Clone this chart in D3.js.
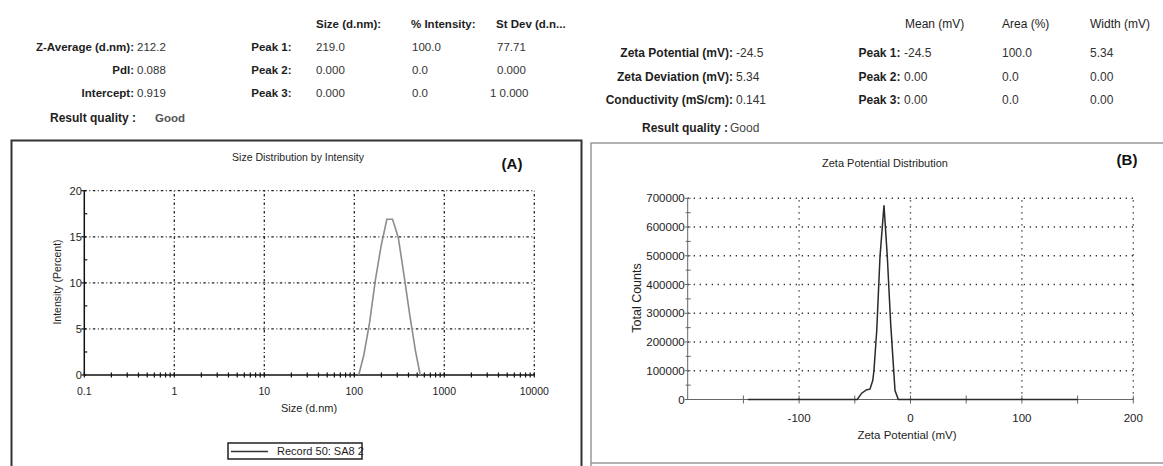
<!DOCTYPE html>
<html><head><meta charset="utf-8">
<script src="https://cdn.jsdelivr.net/npm/d3@7/dist/d3.min.js"></script>
<style>body{margin:0;background:#fff;}svg{display:block;font-family:"Liberation Sans",Arial,sans-serif;}</style>
</head><body>
<svg id="c" width="1163" height="466"></svg>
<script>
// ---------- data ----------
const sizeHeaderCols = ["Size (d.nm):", "% Intensity:", "St Dev (d.n..."];
const sizeSummaryLabels = ["Z-Average (d.nm):", "PdI:", "Intercept:"];
const sizeSummaryValues = ["212.2", "0.088", "0.919"];
const sizePeakLabels = ["Peak 1:", "Peak 2:", "Peak 3:"];
const sizePeakSize = ["219.0", "0.000", "0.000"];
const sizePeakIntensity = ["100.0", "0.0", "0.0"];
const sizePeakStdev = ["77.71", "0.000", "1 0.000"];

const zetaHeaderCols = ["Mean (mV)", "Area (%)", "Width (mV)"];
const zetaSummaryLabels = ["Zeta Potential (mV):", "Zeta Deviation (mV):", "Conductivity (mS/cm):"];
const zetaSummaryValues = ["-24.5", "5.34", "0.141"];
const zetaPeakLabels = ["Peak 1:", "Peak 2:", "Peak 3:"];
const zetaPeakMean = ["-24.5", "0.00", "0.00"];
const zetaPeakArea = ["100.0", "0.0", "0.0"];
const zetaPeakWidth = ["5.34", "0.00", "0.00"];
const resultQuality = "Good";

// Size distribution (d.nm vs intensity %)
const sizeNm = [112, 127.8, 148.0, 171.4, 198.5, 229.9, 266.2, 308.3, 357.0, 413.4, 478.7, 540];
const intensityPct = [0, 2.2, 5.7, 10.3, 14.0, 16.9, 16.9, 14.9, 10.8, 6.5, 2.6, 0];
const sizeTickLabels = ["0.1", "1", "10", "100", "1000", "10000"];
const sizeTickValues = [0.1, 1, 10, 100, 1000, 10000];
const intensityTicks = [0, 5, 10, 15, 20];

// Zeta potential distribution (mV vs total counts)
const zetaMv = [-146, -47.8, -43.8, -39.3, -36.4, -33.9, -32.8, -30.3, -27.4, -23.8, -20.8, -17.8, -13.9, -10.9, 150];
const totalCounts = [0, 0, 22000, 34000, 36000, 66000, 101000, 240000, 496000, 676000, 496000, 264000, 31000, 0, 0];
const zetaTickLabels = ["-100", "0", "100", "200"];
const zetaTickValues = [-100, 0, 100, 200];
const zetaMinorTicks = [-150, -100, -50, 0, 50, 100, 150, 200];
const countTicks = [0, 100000, 200000, 300000, 400000, 500000, 600000, 700000];

// ---------- drawing ----------
const svg = d3.select("#c");
const ink = "#1e1e1e";

function txt(g, x, y, s, o = {}) {
  return g.append("text").attr("x", x).attr("y", y).attr("dy", "0.35em")
    .attr("text-anchor", o.anchor || "start")
    .attr("font-size", o.size || 12)
    .attr("font-weight", o.bold ? "bold" : "normal")
    .attr("fill", o.fill || ink).text(s);
}

// Header A
const hA = svg.append("g");
sizeHeaderCols.forEach((s, i) => txt(hA, [316, 411, 496][i], 24, s, {bold: true, size: 11.5}));
const rowsA = [47, 70, 93];
sizeSummaryLabels.forEach((s, i) => {
  txt(hA, 134, rowsA[i], s, {bold: true, anchor: "end", size: 11.5});
  txt(hA, 137, rowsA[i], sizeSummaryValues[i], {size: 11.5, fill: "#333"});
  txt(hA, 291.5, rowsA[i], sizePeakLabels[i], {bold: true, anchor: "end", size: 11.5});
  txt(hA, 316, rowsA[i], sizePeakSize[i], {size: 11.5, fill: "#333"});
  txt(hA, 412, rowsA[i], sizePeakIntensity[i], {size: 11.5, fill: "#333"});
  txt(hA, sizePeakStdev[i].length > 5 ? 490 : 497, rowsA[i], sizePeakStdev[i], {size: 11.5, fill: "#333"});
});
txt(hA, 50, 118, "Result quality :", {bold: true, size: 12});
txt(hA, 155, 118, resultQuality, {bold: true, size: 11.5, fill: "#555"});

// Header B
const hB = svg.append("g");
zetaHeaderCols.forEach((s, i) => txt(hB, [905, 1002, 1090][i], 24, s, {size: 12}));
const rowsB = [53, 77, 100];
zetaSummaryLabels.forEach((s, i) => {
  txt(hB, 733, rowsB[i], s, {bold: true, anchor: "end", size: 12});
  txt(hB, 736, rowsB[i], zetaSummaryValues[i], {size: 12, fill: "#333"});
  txt(hB, 900.5, rowsB[i], zetaPeakLabels[i], {bold: true, anchor: "end", size: 12});
  txt(hB, 904, rowsB[i], zetaPeakMean[i], {size: 12, fill: "#333"});
  txt(hB, 1002, rowsB[i], zetaPeakArea[i], {size: 12, fill: "#333"});
  txt(hB, 1090, rowsB[i], zetaPeakWidth[i], {size: 12, fill: "#333"});
});
txt(hB, 728, 128, "Result quality :", {bold: true, anchor: "end", size: 12});
txt(hB, 730, 128, resultQuality, {size: 12, fill: "#444"});

// Frames
svg.append("path").attr("d", "M11.5,470 V140.5 H581.5 V470").attr("fill", "none").attr("stroke", "#333").attr("stroke-width", 2);
svg.append("path").attr("d", "M591,470 V143 H1170 M591,463 H1170").attr("fill", "none").attr("stroke", "#999").attr("stroke-width", 1.5);

// ---------- Panel A ----------
const gA = svg.append("g");
const xA = d3.scaleLog().domain([0.1, 10000]).range([84.3, 534.3]);
const yA = d3.scaleLinear().domain([0, 20]).range([375, 190.7]);

const gridA = gA.append("g").attr("stroke", "#222").attr("stroke-width", 1.3).attr("stroke-dasharray", "2.5,2.5,1,2.5");
sizeTickValues.slice(1).forEach(v => gridA.append("line").attr("x1", xA(v)).attr("x2", xA(v)).attr("y1", yA(0)).attr("y2", yA(20)));
intensityTicks.slice(1).forEach(v => gridA.append("line").attr("x1", xA(0.1)).attr("x2", xA(10000)).attr("y1", yA(v)).attr("y2", yA(v)));

const axA = gA.append("g").attr("stroke", "#111").attr("stroke-width", 1.5);
axA.append("line").attr("x1", xA(0.1)).attr("x2", xA(10000)).attr("y1", yA(0)).attr("y2", yA(0));
axA.append("line").attr("x1", xA(0.1)).attr("x2", xA(0.1)).attr("y1", yA(0)).attr("y2", yA(20));
const minorA = [];
for (let e = -1; e < 4; e++) for (let m = 1; m <= 9; m++) minorA.push(m * Math.pow(10, e));
minorA.push(10000);
minorA.forEach(v => axA.append("line").attr("stroke-width", 1.2).attr("x1", xA(v)).attr("x2", xA(v)).attr("y1", yA(0) - 2.5).attr("y2", yA(0) + 2.5));
intensityTicks.forEach(v => axA.append("line").attr("stroke-width", 1.2).attr("x1", xA(0.1) - 3).attr("x2", xA(0.1) + 2).attr("y1", yA(v)).attr("y2", yA(v)));
[2.5, 7.5, 12.5, 17.5].forEach(v => axA.append("line").attr("stroke-width", 1.2).attr("x1", xA(0.1)).attr("x2", xA(0.1) + 3).attr("y1", yA(v)).attr("y2", yA(v)));
intensityTicks.forEach(v => txt(gA, xA(0.1) - 2.5, yA(v), String(v), {anchor: "end", size: 11}));
sizeTickValues.forEach((v, i) => txt(gA, xA(v), 391, sizeTickLabels[i], {anchor: "middle", size: 10.5}));

gA.append("path").datum(sizeNm.map((d, i) => [d, intensityPct[i]]))
  .attr("d", d3.line().x(d => xA(d[0])).y(d => yA(d[1])))
  .attr("fill", "none").attr("stroke", "#8c8c8c").attr("stroke-width", 1.6);

txt(gA, 298, 157, "Size Distribution by Intensity", {anchor: "middle", size: 10.5});
txt(gA, 512, 164, "(A)", {anchor: "middle", size: 15, bold: true, fill: "#111"});
txt(gA, 309, 408, "Size (d.nm)", {anchor: "middle", size: 11});
gA.append("text").attr("transform", "translate(57,282) rotate(-90)").attr("text-anchor", "middle").attr("dy", "0.35em")
  .attr("font-size", 10.5).attr("fill", ink).text("Intensity (Percent)");
gA.append("rect").attr("x", 228).attr("y", 443).attr("width", 134).attr("height", 16).attr("fill", "#fff").attr("stroke", "#222").attr("stroke-width", 1.5);
gA.append("line").attr("x1", 231).attr("x2", 268).attr("y1", 451.5).attr("y2", 451.5).attr("stroke", "#333").attr("stroke-width", 1.3);
txt(gA, 277, 451.5, "Record 50: SA8 2", {size: 11});

// ---------- Panel B ----------
const gB = svg.append("g");
const xB = d3.scaleLinear().domain([-200, 200]).range([687.7, 1133.3]);
const yB = d3.scaleLinear().domain([0, 700000]).range([399.5, 198.3]);

const gridB = gB.append("g").attr("stroke", "#333").attr("stroke-width", 1.4).attr("stroke-dasharray", "1.3,4.7");
zetaTickValues.forEach(v => gridB.append("line").attr("x1", xB(v)).attr("x2", xB(v)).attr("y1", yB(0)).attr("y2", yB(700000)));
countTicks.slice(1).forEach(v => gridB.append("line").attr("x1", xB(-200)).attr("x2", xB(200)).attr("y1", yB(v)).attr("y2", yB(v)));

const axB = gB.append("g").attr("stroke", "#666").attr("stroke-width", 1);
axB.append("line").attr("x1", xB(-200)).attr("x2", xB(200)).attr("y1", yB(0)).attr("y2", yB(0));
axB.append("line").attr("x1", xB(-200)).attr("x2", xB(-200)).attr("y1", yB(0)).attr("y2", yB(700000));
zetaMinorTicks.forEach(v => axB.append("line").attr("x1", xB(v)).attr("x2", xB(v)).attr("y1", yB(0) - 4).attr("y2", yB(0) + 4));
countTicks.forEach(v => axB.append("line").attr("x1", xB(-200) - 3).attr("x2", xB(-200) + 3).attr("y1", yB(v)).attr("y2", yB(v)));
countTicks.slice(0, -1).forEach(v => axB.append("line").attr("x1", xB(-200) - 2).attr("x2", xB(-200) + 3).attr("y1", yB(v + 50000)).attr("y2", yB(v + 50000)));
countTicks.forEach(v => txt(gB, xB(-200) - 3, yB(v), String(v), {anchor: "end", size: 11.5, fill: "#222"}));
zetaTickValues.forEach((v, i) => txt(gB, xB(v), 418, zetaTickLabels[i], {anchor: "middle", size: 11.5, fill: "#222"}));

gB.append("path").datum(zetaMv.map((d, i) => [d, totalCounts[i]]))
  .attr("d", d3.line().x(d => xB(d[0])).y(d => yB(d[1])))
  .attr("fill", "none").attr("stroke", "#2a2a2a").attr("stroke-width", 1.5);

txt(gB, 885, 163, "Zeta Potential Distribution", {anchor: "middle", size: 11});
txt(gB, 1127, 160, "(B)", {anchor: "middle", size: 15, bold: true, fill: "#111"});
txt(gB, 907, 435, "Zeta Potential (mV)", {anchor: "middle", size: 11.5});
gB.append("text").attr("transform", "translate(637,298) rotate(-90)").attr("text-anchor", "middle").attr("dy", "0.35em")
  .attr("font-size", 12.5).attr("fill", "#222").text("Total Counts");
</script>
</body></html>
